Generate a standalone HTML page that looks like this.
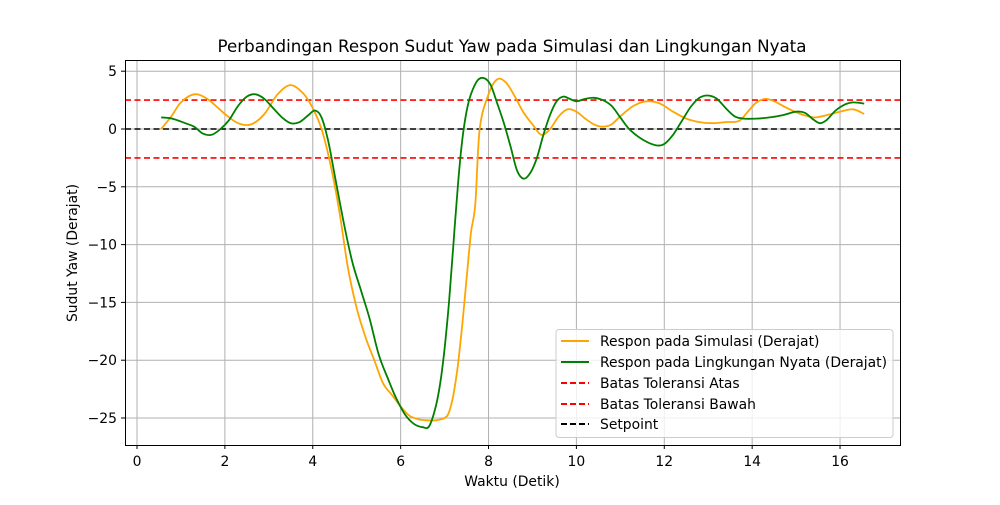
<!DOCTYPE html>
<html><head><meta charset="utf-8"><style>
body{margin:0;background:#fff;}
svg text{font-family:"DejaVu Sans","Liberation Sans",sans-serif;fill:#000;}
</style></head><body>
<svg id="chart" width="1000" height="500" xmlns="http://www.w3.org/2000/svg">
<rect width="1000" height="500" fill="#fff"/>
<g id="grid"></g>
<g id="refs"></g>
<g id="series"></g>
<rect x="125.5" y="60.5" width="775" height="385" fill="none" stroke="#000" stroke-width="1"/>
<g id="ticks"></g>
<text x="512" y="52" font-size="16.7" text-anchor="middle">Perbandingan Respon Sudut Yaw pada Simulasi dan Lingkungan Nyata</text>
<text x="512" y="486" font-size="13.9" text-anchor="middle">Waktu (Detik)</text>
<text x="0" y="0" font-size="13.9" text-anchor="middle" transform="translate(77,253) rotate(-90)">Sudut Yaw (Derajat)</text>
<g>
<rect x="556" y="329.5" width="337" height="108" rx="3" fill="#fff" fill-opacity="0.8" stroke="#ccc"/>
<line x1="561" y1="341" x2="589" y2="341" stroke="orange" stroke-width="2"/>
<text x="600" y="346" font-size="13.9">Respon pada Simulasi (Derajat)</text>
<line x1="561" y1="362" x2="589" y2="362" stroke="green" stroke-width="2"/>
<text x="600" y="367" font-size="13.9">Respon pada Lingkungan Nyata (Derajat)</text>
<line x1="561" y1="383" x2="589" y2="383" stroke="red" stroke-width="2" stroke-dasharray="6,3"/>
<text x="600" y="388" font-size="13.9">Batas Toleransi Atas</text>
<line x1="561" y1="404" x2="589" y2="404" stroke="red" stroke-width="2" stroke-dasharray="6,3"/>
<text x="600" y="409" font-size="13.9">Batas Toleransi Bawah</text>
<line x1="561" y1="424" x2="589" y2="424" stroke="#000" stroke-width="2" stroke-dasharray="6,3"/>
<text x="600" y="429" font-size="13.9">Setpoint</text>
</g>
</svg>
<script>
const xTicks=[0,2,4,6,8,10,12,14,16];
const yTicks=[5,0,-5,-10,-15,-20,-25];
const refValues=[2.5,-2.5,0];
const simT=[0.55,0.8,1.0,1.3,1.6,2.0,2.3,2.6,2.9,3.2,3.5,3.8,4.0,4.2,4.4,4.6,4.8,5.0,5.2,5.4,5.6,5.8,6.0,6.2,6.4,6.6,6.8,7.0,7.1,7.2,7.3,7.4,7.5,7.6,7.7,7.8,8.0,8.2,8.4,8.6,8.8,9.0,9.2,9.4,9.6,9.8,10.0,10.2,10.4,10.6,10.8,11.0,11.3,11.6,11.9,12.2,12.5,12.8,13.1,13.4,13.7,13.9,14.1,14.3,14.5,14.8,15.1,15.4,15.7,16.0,16.3,16.55];
const simY=[0,1.2,2.3,3.0,2.6,1.3,0.5,0.4,1.3,3.0,3.8,3.0,1.8,0,-3,-7,-12,-15.5,-18,-20,-22,-23,-24,-24.8,-25.1,-25.2,-25.2,-25,-24.5,-23,-20.5,-17,-13,-9,-6.5,0,3.0,4.3,4.0,2.8,1.4,0.4,-0.5,0,1.1,1.7,1.5,0.9,0.4,0.2,0.4,1.1,2.0,2.4,2.2,1.5,0.9,0.6,0.5,0.6,0.7,1.5,2.3,2.6,2.4,1.8,1.3,1.0,1.2,1.5,1.7,1.3];
const realT=[0.55,0.8,1.1,1.3,1.5,1.7,1.9,2.1,2.3,2.5,2.7,2.9,3.1,3.3,3.5,3.7,3.9,4.05,4.2,4.35,4.5,4.7,4.9,5.1,5.3,5.5,5.7,5.9,6.1,6.3,6.5,6.65,6.8,6.9,7.0,7.1,7.2,7.3,7.4,7.5,7.6,7.75,7.9,8.05,8.2,8.35,8.5,8.65,8.8,8.95,9.1,9.25,9.4,9.55,9.7,9.85,10.0,10.2,10.4,10.6,10.8,11.0,11.2,11.5,11.8,12.0,12.2,12.4,12.6,12.8,13.0,13.2,13.4,13.6,13.8,14.1,14.4,14.7,15.0,15.2,15.4,15.55,15.7,15.9,16.1,16.3,16.55];
const realY=[1.0,0.9,0.5,0.2,-0.4,-0.5,0,0.8,2.0,2.8,3.0,2.6,1.8,1.0,0.5,0.6,1.2,1.6,1.0,-1,-4,-8,-11.5,-14,-16.5,-19.5,-21.5,-23.3,-24.7,-25.5,-25.8,-25.7,-24,-22,-19,-15,-10,-5,-1,1.5,3.0,4.2,4.4,3.8,2.2,0.5,-1.5,-3.6,-4.3,-3.8,-2.5,-0.5,1.2,2.4,2.8,2.6,2.4,2.6,2.7,2.5,2.0,1.0,0,-0.9,-1.4,-1.3,-0.5,0.7,1.9,2.7,2.9,2.6,1.8,1.1,0.9,0.9,1.0,1.2,1.5,1.4,0.8,0.5,0.8,1.6,2.1,2.3,2.2];
const NS="http://www.w3.org/2000/svg";
const X=v=>137+v*43.94, Y=v=>129-v*11.56;
function mk(parent,tag,attrs){const e=document.createElementNS(NS,tag);for(const k in attrs)e.setAttribute(k,attrs[k]);document.getElementById(parent).appendChild(e);return e;}
xTicks.forEach(t=>{
 const g=mk('grid','line',{x1:X(t),x2:X(t),y1:60,y2:445,stroke:'#b0b0b0','stroke-width':1});
 
 
 const tk=mk('ticks','line',{x1:X(t),x2:X(t),y1:445,y2:449,stroke:'#000'});
 
 
 const tx=mk('ticks','text',{x:X(t),y:466,'font-size':13.9,'text-anchor':'middle'});
 tx.textContent=t;
 
 
});
yTicks.forEach(t=>{
 const g=mk('grid','line',{x1:125,x2:900,y1:Y(t),y2:Y(t),stroke:'#b0b0b0','stroke-width':1});
 
 
 const tk=mk('ticks','line',{x1:121,x2:125,y1:Y(t),y2:Y(t),stroke:'#000'});
 
 
 const tx=mk('ticks','text',{x:117,y:Y(t)+5,'font-size':13.9,'text-anchor':'end'});
 tx.textContent=t<0?'\u2212'+(-t):t;
 
 
});
refValues.forEach((v,i)=>{
 const l=mk('refs','line',{x1:125,x2:900,y1:Y(v),y2:Y(v),stroke:i<2?'red':'#000','stroke-width':1.6,'stroke-dasharray':'6,3.5'});
 
 
});
function line(ts,ys,color){
 const p=ts.map((t,i)=>[X(t),Y(ys[i])]);
 let d='M'+p[0][0].toFixed(1)+','+p[0][1].toFixed(1);
 for(let i=0;i<p.length-1;i++){
  const p0=p[Math.max(0,i-1)],p1=p[i],p2=p[i+1],p3=p[Math.min(p.length-1,i+2)];
  const c1=[p1[0]+(p2[0]-p0[0])/6,p1[1]+(p2[1]-p0[1])/6];
  const c2=[p2[0]-(p3[0]-p1[0])/6,p2[1]-(p3[1]-p1[1])/6];
  d+='C'+c1[0].toFixed(1)+','+c1[1].toFixed(1)+' '+c2[0].toFixed(1)+','+c2[1].toFixed(1)+' '+p2[0].toFixed(1)+','+p2[1].toFixed(1);
 }
 return mk('series','path',{d:d,fill:'none',stroke:color,'stroke-width':1.8,'stroke-linejoin':'round'});
}
const s1=line(simT,simY,'orange');


const s2=line(realT,realY,'green');


</script>
</body></html>
